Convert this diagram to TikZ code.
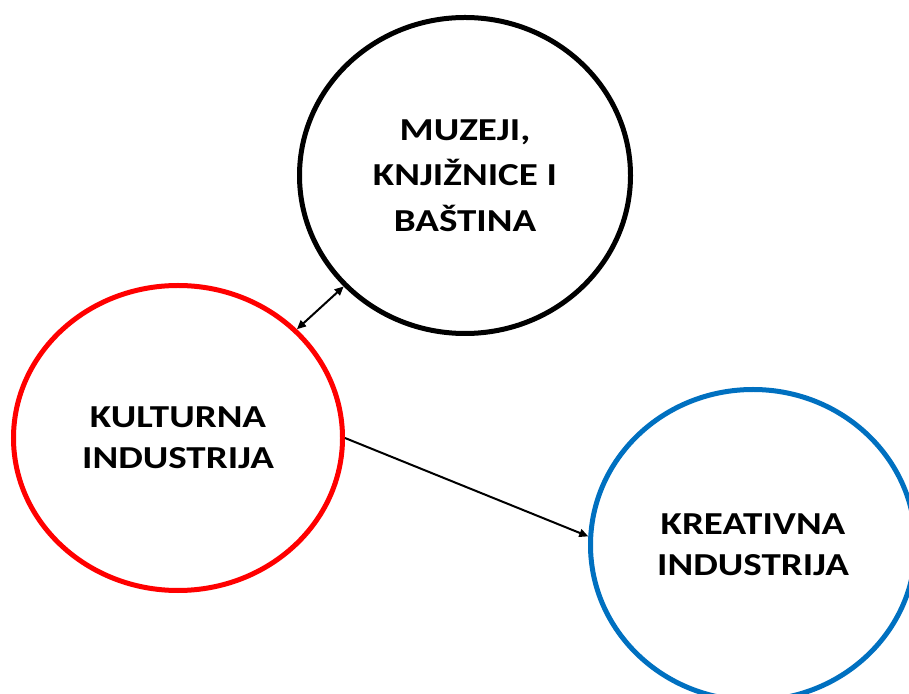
\documentclass[tikz,border=0pt]{standalone}
\usepackage{fontspec}
\setmainfont{Carlito}[FakeStretch=1.22]
\usetikzlibrary{shapes.geometric,arrows.meta}
\definecolor{offblue}{RGB}{0,112,192}

\begin{document}
\begin{tikzpicture}[x=1pt,y=1pt,
    every node/.style={font=\fontsize{32}{41}\selectfont\bfseries},
    krug/.style={ellipse,draw,line width=5pt,align=center,inner sep=0pt},
    veza/.style={line width=2pt,>={Triangle[length=9pt,width=8pt]}}]
  \useasboundingbox (0,0) rectangle (909,693);
  \node[krug,minimum width=331,minimum height=316,
        font=\fontsize{32}{45.5}\selectfont\bfseries] (muzeji) at (465,517.5)
    {MUZEJI,\\KNJIŽNICE I\\BAŠTINA};
  \node[krug,red,text=black,minimum width=329,minimum height=305] (kulturna) at (178,255)
    {KULTURNA\\INDUSTRIJA};
  \node[krug,offblue,text=black,minimum width=325,minimum height=311] (kreativna) at (753,148)
    {KREATIVNA\\INDUSTRIJA};
  \draw[veza,<->] (kulturna) -- (muzeji);
  \draw[veza,->] (kulturna.east) -- (kreativna.177);
\end{tikzpicture}
\end{document}
